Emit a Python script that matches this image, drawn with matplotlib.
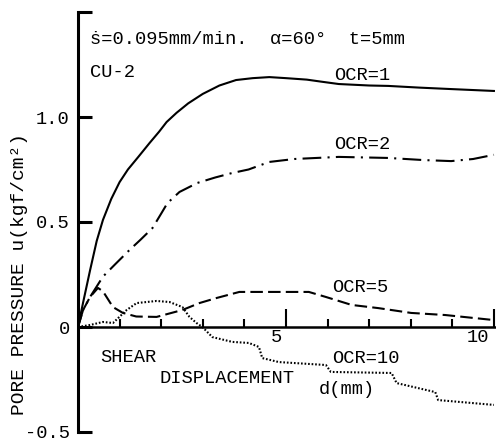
import numpy as np
import matplotlib
matplotlib.use("Agg")
import matplotlib.pyplot as plt

plt.rcParams['font.family'] = ['Liberation Mono', 'DejaVu Sans Mono']

# curves: shear displacement d (mm) vs pore pressure u (kgf/cm2)
d_ocr1 = [0, 0.12, 0.29, 0.45, 0.6, 0.8, 1.0, 1.2, 1.45, 1.72, 1.95, 2.13, 2.37, 2.65,
          3.0, 3.4, 3.8, 4.2, 4.6, 5.0, 5.5, 5.86, 6.27, 7.0, 7.46, 8.2, 8.97, 10.0]
u_ocr1 = [0, 0.114, 0.27, 0.41, 0.51, 0.61, 0.69, 0.75, 0.81, 0.876, 0.93, 0.976, 1.02,
          1.065, 1.11, 1.15, 1.176, 1.185, 1.19, 1.185, 1.178, 1.168, 1.157, 1.15, 1.148,
          1.14, 1.133, 1.124]

d_ocr2 = [0, 0.12, 0.29, 0.6, 0.9, 1.24, 1.5, 1.79, 2.0, 2.15, 2.44, 2.87, 3.3, 3.7,
          4.1, 4.6, 5.2, 6.27, 7.46, 8.3, 8.97, 9.5, 10.0]
u_ocr2 = [0, 0.08, 0.143, 0.24, 0.3, 0.367, 0.415, 0.471, 0.54, 0.59, 0.643, 0.686,
          0.712, 0.733, 0.75, 0.786, 0.80, 0.81, 0.805, 0.795, 0.79, 0.80, 0.82]

d_ocr5 = [0, 0.12, 0.29, 0.48, 0.6, 0.84, 1.08, 1.4, 1.89, 2.51, 2.92, 3.33, 3.88,
          4.67, 5.55, 5.96, 6.58, 7.22, 8.01, 8.83, 10.0]
u_ocr5 = [0, 0.08, 0.143, 0.186, 0.17, 0.095, 0.067, 0.05, 0.048, 0.081, 0.114, 0.138,
          0.167, 0.167, 0.167, 0.143, 0.105, 0.09, 0.067, 0.057, 0.033]

d_ocr10 = [0, 0.3, 0.6, 0.84, 1.17, 1.41, 1.89, 2.2, 2.51, 2.68, 2.85, 2.99, 3.23, 3.71,
           4.11, 4.35, 4.43, 4.83, 5.96, 6.08, 7.54, 7.66, 8.59, 8.66, 10.0]
u_ocr10 = [0, 0.01, 0.024, 0.019, 0.081, 0.114, 0.124, 0.119, 0.095, 0.048, 0.019, 0.0,
           -0.048, -0.071, -0.076, -0.095, -0.148, -0.167, -0.181, -0.214, -0.219, -0.267,
           -0.31, -0.348, -0.371]

yticks = [-0.5, 0, 0.5, 1.0, 1.5]
ytick_labels = ['-0.5', '0', '0.5', '1.0', '']

fig = plt.figure(figsize=(4.96, 4.41), dpi=100)
ax = fig.add_axes([78/496, 9/441, 418/496, 420/441])

lw = 1.5
ax.plot(d_ocr1, u_ocr1, color='black', lw=lw)
ax.plot(d_ocr2, u_ocr2, color='black', lw=lw, linestyle=(0, (9, 3, 1, 3)))
ax.plot(d_ocr5, u_ocr5, color='black', lw=lw, linestyle=(0, (6, 2.5)))
ax.plot(d_ocr10, u_ocr10, color='black', lw=lw, linestyle=(0, (0.8, 0.9)))

ax.set_xlim(0, 10.05)
ax.set_ylim(-0.5, 1.5)

for s in ['top', 'right']:
    ax.spines[s].set_visible(False)
ax.spines['left'].set_linewidth(2.2)
ax.spines['bottom'].set_position(('data', 0))
ax.spines['bottom'].set_linewidth(1.8)

ax.set_yticks(yticks)
ax.set_yticklabels(ytick_labels)
ax.tick_params(axis='y', direction='in', length=10, width=2.2, labelsize=13.5, pad=6)

ax.set_xticks([5, 10])
ax.set_xticklabels([])
ax.set_xticks(range(1, 10), minor=True)
ax.tick_params(axis='x', which='major', direction='in', length=13, width=1.5)
ax.tick_params(axis='x', which='minor', direction='in', length=6, width=1.5)
ax.text(4.76, -0.052, '5', fontsize=13.5, ha='center', va='center')
ax.text(9.62, -0.052, '10', fontsize=13.5, ha='center', va='center')

ax.set_ylabel('PORE PRESSURE u(kgf/cm²)', fontsize=14)
ax.yaxis.set_label_coords(-0.12, 0.376)

fs = 13.5
ax.text(0.29, 1.367, 'ṡ=0.095mm/min.  α=60°  t=5mm', fontsize=fs, va='center')
ax.text(0.29, 1.21, 'CU-2', fontsize=fs, va='center')
ax.text(6.15, 1.20, 'OCR=1', fontsize=fs, va='center')
ax.text(6.15, 0.867, 'OCR=2', fontsize=fs, va='center')
ax.text(6.1, 0.19, 'OCR=5', fontsize=fs, va='center')
ax.text(6.1, -0.148, 'OCR=10', fontsize=fs, va='center')
ax.text(0.53, -0.143, 'SHEAR', fontsize=fs, va='center')
ax.text(1.96, -0.243, 'DISPLACEMENT', fontsize=fs, va='center')
ax.text(5.79, -0.30, 'd(mm)', fontsize=fs, va='center')

fig.savefig('out.png', dpi=100)
